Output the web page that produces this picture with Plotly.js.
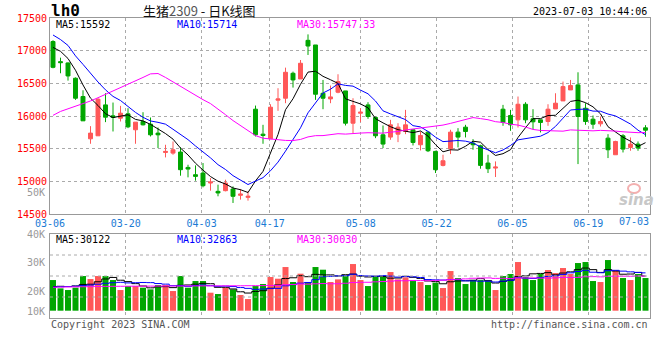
<!DOCTYPE html>
<html><head><meta charset="utf-8">
<script src="https://cdn.plot.ly/plotly-3.0.1.min.js"></script>
<style>body{margin:0;background:#fff}#c{width:660px;height:360px}</style>
</head><body><div id="c"></div>
<script>
const dates = ['03-06','03-07','03-08','03-09','03-10','03-13','03-14','03-15','03-16','03-17','03-20','03-21','03-22','03-23','03-24','03-27','03-28','03-29','03-30','03-31',
'04-03','04-04','04-06','04-07','04-10','04-11','04-12','04-13','04-14','04-17','04-18','04-19','04-20','04-21','04-24','04-25','04-26','04-27','04-28',
'05-04','05-05','05-08','05-09','05-10','05-11','05-12','05-15','05-16','05-17','05-18','05-19','05-22','05-23','05-24','05-25','05-26','05-29','05-30','05-31',
'06-01','06-02','06-05','06-06','06-07','06-08','06-09','06-12','06-13','06-14','06-15','06-16','06-19','06-20','06-21','06-26','06-27','06-28','06-29','06-30','07-03'];
const openP  = [17140,16832,16812,16578,16298,15651,15697,16170,16002,15967,16033,15789,15916,15875,15738,15442,15432,15448,15213,15101,15127,14974,14847,14857,14883,14786,14755,16104,15722,15651,16242,16272,16654,16567,17158,17087,16348,16262,16364,16384,15890,16043,16170,15977,15712,15677,15722,15763,15789,15560,15753,15458,15244,15498,15753,15829,15585,15544,15280,15203,16104,16008,15941,16180,15957,15941,15916,16109,16231,16399,16476,16119,15951,15880,15661,15407,15697,15519,15570,15819];
const highP  = [17160,16893,16820,16590,16394,15845,16272,16348,16206,16155,16119,15906,16058,15977,15824,15560,15610,15519,15254,15244,15280,15050,14949,15025,14923,14883,14847,16160,15865,16180,16425,16740,16679,16857,17249,17087,16552,16466,16639,16384,16272,16119,16211,15992,15855,15941,15890,16094,15789,15763,15763,15468,15407,15789,15814,15865,15646,15560,15407,15305,16170,16094,16298,16211,16104,15941,16180,16348,16527,16552,16669,16196,16008,15992,15722,15621,15722,15672,15610,15860];
const lowP   = [16730,16654,16542,16247,15926,15575,15697,15906,15763,15916,15814,15575,15855,15687,15509,15366,15407,15086,15061,15010,14908,14857,14771,14847,14669,14720,14704,15687,15575,15651,16079,16196,16435,16567,16934,16247,16104,16196,16348,15855,15738,15906,15957,15661,15509,15636,15600,15722,15549,15473,15448,15127,15229,15417,15519,15672,15483,15193,15127,15066,15850,15773,15824,15890,15799,15748,15850,16109,16231,16399,15264,15865,15804,15839,15356,15407,15442,15468,15468,15682];
const closeP = [16745,16817,16613,16272,15926,15738,16257,15982,15977,16043,15834,15906,15865,15712,15712,15458,15483,15178,15188,15076,14933,14989,14822,14974,14771,14806,14771,15712,15702,16135,16262,16669,16552,16807,17071,16333,16272,16292,16527,15890,16160,16058,15992,15697,15570,15865,15829,15865,15595,15702,15468,15178,15315,15753,15677,15763,15560,15244,15193,15218,15901,15865,16180,15941,15911,15901,16104,16196,16450,16466,15992,15916,15875,15916,15483,15610,15493,15570,15509,15783];
const ma5  = [17050,16990,16880,16700,16475,16273,16161,16035,15976,15999,16019,15948,15925,15872,15806,15731,15646,15509,15404,15277,15172,15073,15002,14959,14898,14872,14829,15007,15152,15425,15716,16096,16264,16485,16672,16686,16607,16555,16499,16263,16228,16185,16125,15959,15895,15836,15791,15765,15745,15771,15692,15562,15452,15483,15478,15537,15614,15599,15487,15396,15423,15484,15671,15821,15960,15960,16007,16011,16112,16223,16242,16204,16140,16033,15836,15760,15675,15614,15533,15592];
const ma10 = [17240,17170,17080,16920,16790,16650,16520,16400,16300,16237,16146,16055,15980,15924,15903,15875,15797,15717,15638,15541,15451,15359,15255,15181,15087,15022,14951,15004,15056,15162,15294,15462,15635,15819,16049,16201,16352,16410,16492,16468,16457,16396,16340,16229,16079,16032,15988,15945,15852,15833,15764,15676,15608,15614,15625,15615,15588,15526,15485,15437,15480,15549,15635,15654,15678,15691,15746,15841,15967,16092,16101,16106,16075,16073,16030,16001,15940,15877,15783,15714];
const ma30 = [16010,16070,16110,16150,16180,16230,16280,16330,16390,16440,16490,16540,16590,16645,16650,16590,16520,16450,16390,16320,16250,16190,16110,16020,15930,15850,15770,15700,15660,15647,15630,15626,15624,15641,15680,15699,15700,15710,15729,15723,15734,15739,15744,15743,15738,15752,15763,15786,15800,15821,15839,15845,15861,15887,15918,15949,15976,15960,15943,15913,15901,15874,15861,15832,15794,15779,15774,15771,15768,15787,15782,15777,15773,15780,15777,15769,15758,15748,15745,15747.33];
const volume = [26630,19400,17950,19980,30110,27500,30110,30110,26630,17950,21420,21420,19980,18530,22290,22290,17080,30110,19980,25770,25770,15630,14480,19980,18530,13610,10130,21420,23160,29240,27790,37930,24900,32140,24900,37930,35610,24900,27210,30690,40530,26630,21420,30110,29530,33580,27210,28950,25770,24900,22290,24320,19690,34450,28370,23160,26630,26630,25770,17950,30110,31850,42270,29240,26630,31850,35320,32710,37060,31850,41400,42270,25770,24900,44000,35320,28370,26630,31850,28370];
const vma5  = [21000,21200,21000,21500,22810,22990,25130,27560,28890,26460,25240,23510,21480,19860,20730,20900,20030,22060,22350,23040,23740,23450,20320,20320,18880,16440,15340,16730,17370,19510,22350,27910,28600,30400,29530,31560,31090,31090,30110,31270,31790,29990,29300,29880,29650,28260,28370,29880,29010,28080,25820,25240,23390,25130,25820,26000,26460,27850,26110,24030,25420,26460,29590,30280,32020,32370,33060,31150,32710,33760,35670,37060,35670,33240,35670,34450,31670,31850,33240,30122];
const vma10 = [20500,20800,21000,21300,21800,22300,23000,23800,24300,24640,24120,24320,24520,24380,23590,23070,21770,21770,21110,21890,22320,21740,21190,21340,20960,20090,19400,18530,18850,19190,19400,21630,22670,23880,24520,26950,29500,29850,30250,30400,31670,30540,30200,29990,30460,30020,29180,29590,29440,28860,27040,26810,26630,27070,26950,25910,25850,25620,25620,24930,25710,26460,28720,28200,28020,28890,29760,30370,31500,32890,34020,35060,33410,32970,34710,35060,34360,33760,33240,32863];
const vma30 = [20400,20500,20600,20700,20800,20900,21000,21100,21150,21200,21250,21300,21300,21350,21400,21400,21450,21450,21500,21500,21550,21550,21600,21600,21650,21650,21700,21750,21800,21910,21940,22560,22790,23200,23030,23370,23560,23380,23400,23830,24460,24640,24690,25070,25310,25690,26030,25990,26180,26150,26040,26330,26500,26980,27310,27630,28180,28350,28440,28060,28140,27940,28520,28420,28480,28280,28270,28530,28850,28890,28920,29440,29590,29410,29900,29950,29990,29920,30120,30030];
const gridDates = ['03-06','03-20','04-03','04-17','05-08','05-22','06-05','06-19'];
const lastDate = '07-03';
const priceTicks = [14500,15000,15500,16000,16500,17000,17500];

const RED = '#FF5858', GREEN = '#00A600';
const X = dates.map((d, i) => i);
const volColors = closeP.map((c, i) => c >= openP[i] ? RED : GREEN);
// pixel helpers (plot area: x 50..650, y 18..318)
const px = x => (x - 50) / 600;
const py = y => (318 - y) / 300;
const gridPos = gridDates.map(d => dates.indexOf(d) * 1.0107 - 0.4);

const mono = 'DejaVu Sans Mono';
const traces = [
  {type:'candlestick', x:X, open:openP, high:highP, low:lowP, close:closeP, xaxis:'x', yaxis:'y',
   increasing:{line:{color:RED,width:1}, fillcolor:RED}, decreasing:{line:{color:GREEN,width:1}, fillcolor:GREEN},
   whiskerwidth:0, showlegend:false, hoverinfo:'skip'},
  {type:'scatter', mode:'lines', x:X, y:ma5, line:{color:'#000000', width:1}, xaxis:'x', yaxis:'y', showlegend:false, hoverinfo:'skip'},
  {type:'scatter', mode:'lines', x:X, y:ma10, line:{color:'#0000FF', width:1}, xaxis:'x', yaxis:'y', showlegend:false, hoverinfo:'skip'},
  {type:'scatter', mode:'lines', x:X, y:ma30, line:{color:'#FF00FF', width:1}, xaxis:'x', yaxis:'y', showlegend:false, hoverinfo:'skip'},
  {type:'bar', x:X, y:volume, marker:{color:volColors, line:{width:0}}, xaxis:'x2', yaxis:'y2', showlegend:false, hoverinfo:'skip'},
  {type:'scatter', mode:'lines', x:X, y:vma5, line:{color:'#000000', width:1, shape:'hvh'}, xaxis:'x2', yaxis:'y2', showlegend:false, hoverinfo:'skip'},
  {type:'scatter', mode:'lines', x:X, y:vma10, line:{color:'#0000FF', width:1, shape:'hvh'}, xaxis:'x2', yaxis:'y2', showlegend:false, hoverinfo:'skip'},
  {type:'scatter', mode:'lines', x:X, y:vma30, line:{color:'#FF00FF', width:1, shape:'hvh'}, xaxis:'x2', yaxis:'y2', showlegend:false, hoverinfo:'skip'}
];

const ann = (text, x, y, color, xanchor, size, extra) => Object.assign({
  text, x: px(x), y: py(y), xref:'paper', yref:'paper', xanchor, yanchor:'middle', showarrow:false,
  font:{family:mono, size:size || 10, color}}, extra || {});

const annotations = [
  ann('<b>lh0</b>', 49, 11, '#000', 'left', 16),
  ann('生猪<span style="color:#555">2309</span> - 日K线图', 199, 11, '#111', 'center', 13, {font:{family:'Noto Sans CJK SC', size:13, color:'#111'}}),
  ann('2023-07-03 10:44:06', 649, 12, '#000', 'right', 10),
  ann('MA5:15592', 54, 24, '#000', 'left', 10),
  ann('MA10:15714', 175, 24, '#0000FF', 'left', 10),
  ann('MA30:15747.33', 295, 24, '#FF00FF', 'left', 10),
  ann('MA5:' + vma5[vma5.length-1], 54, 239, '#000', 'left', 10),
  ann('MA10:' + vma10[vma10.length-1], 175, 239, '#0000FF', 'left', 10),
  ann('MA30:' + vma30[vma30.length-1], 295, 239, '#FF00FF', 'left', 10),
  ann('50K', 47, 192, '#999', 'right', 10),
  ann('40K', 47, 234, '#999', 'right', 10),
  ann('30K', 47, 262, '#999', 'right', 10),
  ann('20K', 47, 291, '#999', 'right', 10),
  ann('10K', 47, 311, '#999', 'right', 10),
  ann(lastDate, 634, 221, '#1a7ad4', 'center', 10),
  ann('Copyright 2023 SINA.COM', 49, 324, '#555', 'left', 10),
  ann('http://finance.sina.com.cn', 650, 324, '#555', 'right', 10),
  ann('<b><i>sina</i></b>', 636, 200, '#c8c8c8', 'center', 15, {font:{family:'DejaVu Sans', size:15, color:'#c8c8c8'}})
];

const shapes = [0.25, 0.5, 0.75].map(f => ({type:'line', xref:'x2 domain', yref:'y2 domain', x0:0, x1:1, y0:f, y1:f,
  line:{color:'#aaaaaa', width:1, dash:'dot'}}));
shapes.push({type:'circle', xref:'paper', yref:'paper', x0:px(628), x1:px(640), y0:py(193), y1:py(184), line:{color:'#f3b0b0', width:2}});

const axBase = {showline:true, mirror:true, linecolor:'#999999', linewidth:1, zeroline:false, fixedrange:true};
const layout = {
  width:660, height:360, margin:{l:50, r:10, t:18, b:42},
  paper_bgcolor:'#fff', plot_bgcolor:'#fff', showlegend:false, hovermode:false,
  boxgap:0.25, bargap:0.2,
  xaxis: Object.assign({}, axBase, {domain:[0,1], anchor:'y', range:[-0.4, 79.6], tickmode:'array', tickvals:gridPos, ticktext:gridDates,
    showgrid:true, gridcolor:'#aaaaaa', griddash:'dot', ticks:'', tickfont:{family:mono, size:10, color:'#1a7ad4'}, rangeslider:{visible:false}}),
  yaxis: Object.assign({}, axBase, {domain:[0.34667, 1], anchor:'x', range:[14500, 17500], tickmode:'array', tickvals:priceTicks,
    ticktext:priceTicks.map(String), showgrid:true, gridcolor:'#aaaaaa', griddash:'dot', ticks:'', tickfont:{family:mono, size:10, color:'#FF0000'}}),
  xaxis2: Object.assign({}, axBase, {domain:[0,1], anchor:'y2', range:[-0.4, 79.6], tickmode:'array', tickvals:gridPos,
    showticklabels:false, showgrid:true, gridcolor:'#aaaaaa', griddash:'dot', ticks:''}),
  yaxis2: Object.assign({}, axBase, {domain:[0, 0.28], anchor:'x2', range:[-6340, 66614], showticklabels:false, showgrid:false, ticks:''}),
  annotations, shapes
};
Plotly.newPlot('c', traces, layout, {staticPlot:true, displayModeBar:false});
</script></body></html>
